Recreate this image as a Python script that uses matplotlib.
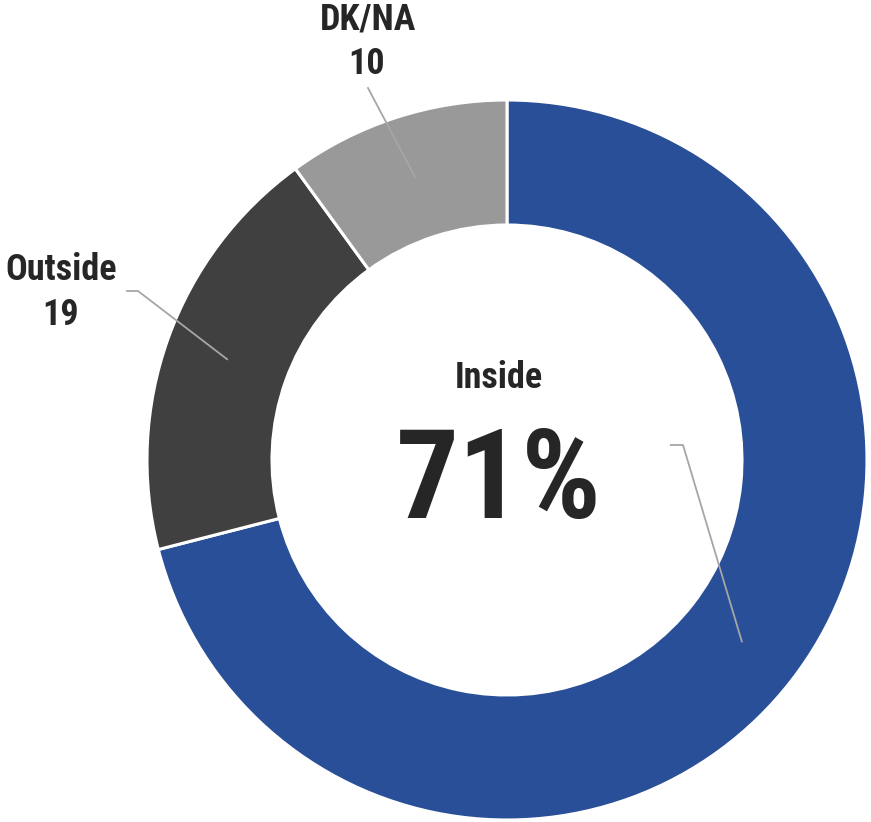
import numpy as np
import matplotlib
matplotlib.use("Agg")
import matplotlib.pyplot as plt

categories = ["Inside", "Outside", "DK/NA"]
values = [71, 19, 10]
colors = ["#284F97", "#404040", "#999999"]

FONT = ["Roboto Condensed", "Liberation Sans", "DejaVu Sans"]
TXT = "#262626"
LEAD = "#A6A6A6"

W, H = 871, 822
fig = plt.figure(figsize=(W / 100, H / 100), dpi=100)
ax = fig.add_axes([0, 0, 1, 1])
ax.set_xlim(0, W)
ax.set_ylim(0, H)
ax.axis("off")

cx, cy = 507, H - 460
R, ring = 360, 125

wedges, _ = ax.pie(values, colors=colors, startangle=90, counterclock=False,
                   radius=R, center=(cx, cy),
                   wedgeprops=dict(width=ring, edgecolor="white", linewidth=2.2))
ax.set_xlim(0, W)
ax.set_ylim(0, H)
ax.set_aspect("equal")

def anchor(w):
    ang = np.deg2rad((w.theta1 + w.theta2) / 2)
    r = R - ring / 2
    return cx + r * np.cos(ang), cy + r * np.sin(ang)

# Center label (Inside)
ax.text(499, H - 378, categories[0], ha="center", va="center",
        fontsize=26, fontweight="bold", family=FONT, color=TXT)
ax.text(499, H - 484, f"{values[0]}%", ha="center", va="center",
        fontsize=90, fontweight="bold", family=FONT, color=TXT)
ex, ey = anchor(wedges[0])
ax.plot([670, 683, ex], [H - 445, H - 445, ey], color=LEAD, lw=1.3,
        solid_capstyle="butt")

# Outside
ax.text(61, H - 270, categories[1], ha="center", va="center",
        fontsize=26, fontweight="bold", family=FONT, color=TXT)
ax.text(61, H - 315, str(values[1]), ha="center", va="center",
        fontsize=26, fontweight="bold", family=FONT, color=TXT)
ex, ey = anchor(wedges[1])
ax.plot([127, 138, ex], [H - 291, H - 291, ey], color=LEAD, lw=1.3)

# DK/NA
ax.text(368, H - 20, categories[2], ha="center", va="center",
        fontsize=26, fontweight="bold", family=FONT, color=TXT)
ax.text(367, H - 64, str(values[2]), ha="center", va="center",
        fontsize=26, fontweight="bold", family=FONT, color=TXT)
ex, ey = anchor(wedges[2])
ax.plot([368, ex], [H - 88, ey], color=LEAD, lw=1.3)

fig.savefig("out.png", dpi=100, facecolor="white")
